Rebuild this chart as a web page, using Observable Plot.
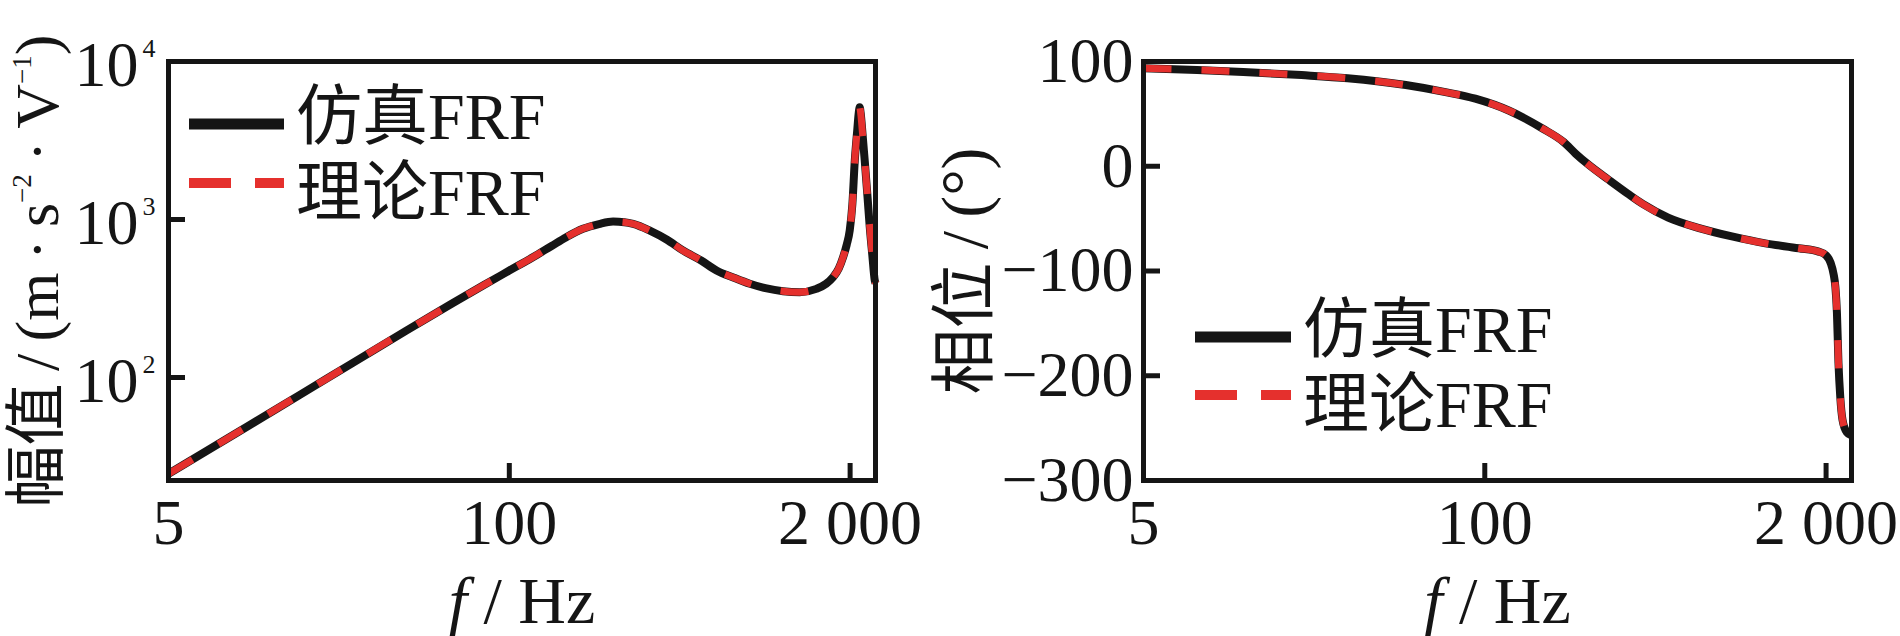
<!DOCTYPE html>
<html><head><meta charset="utf-8">
<script src="https://cdn.jsdelivr.net/npm/d3@7"></script>
<script src="https://cdn.jsdelivr.net/npm/@observablehq/plot@0.6"></script>
<style>
html,body{margin:0;padding:0;background:#fff;}
#wrap{position:relative;width:1900px;height:636px;overflow:hidden;}
#wrap svg{position:absolute;top:0;overflow:visible;max-width:none;}
</style></head><body><div id="wrap"></div>
<script>
// ---------- data ----------
const seriesNames = ["仿真FRF", "理论FRF"];

const freqMag = [5,10,20,40,60,80,100,123,145,165,191,220,249,275,297,344,400,460,540,618,720,828,950,1109,1285,1486,1620,1721,1810,1880,1940,1993,2040,2084,2130,2160,2176,2195,2230,2274,2330,2377,2430,2484,2500];
const magSim    = [24.6,49,98,196,292,385,475,577,680,773,873,935,970,962,939,851,745,637,550,476,428,392,368,352,347,364,392,431,490,577,690,851,1250,2362,3700,4800,5140,4700,3500,2362,1400,894,600,411,395];
const magTheory = [24.6,49,98,196,292,385,475,577,680,773,873,935,970,962,939,851,745,637,550,476,428,392,368,352,347,364,392,431,490,577,690,851,1250,2362,3700,4800,5140,4700,3500,2362,1400,894,600,411,395];

const freqPhase = [5,8,12,20,30,50,70,92,124,166,200,222,250,297,350,400,500,656,875,1174,1574,1874,2000,2080,2140,2170,2200,2230,2265,2310,2400,2500];
const phaseSim    = [93.5,92,90,87,84,77.5,71,64.5,53,36,23,12,1,-13,-26,-36,-49,-59,-67,-73.6,-78.3,-81.5,-85,-92,-104,-115,-140,-188,-220,-242,-254,-257];
const phaseTheory = [93.5,92,90,87,84,77.5,71,64.5,53,36,23,12,1,-13,-26,-36,-49,-59,-67,-73.6,-78.3,-81.5,-85,-92,-104,-115,-140,-188,-220,-242,-254,-257];

const xTicks = [5, 100, 2000];
const xTickLabels = ["5", "100", "2 000"];
const magTicks = [100, 1000, 10000];
const magTickExp = ["2", "3", "4"];
const phaseTicks = [100, 0, -100, -200, -300];
const phaseTickLabels = ["100", "0", "\u2212100", "\u2212200", "\u2212300"];

const TS = "\u2009"; // thin space
const xLabel = "f / Hz";
const magLabel = `幅值${TS}/${TS}(m${TS}·${TS}s−2${TS}·${TS}V−1)`;
const phaseLabel = `相位${TS}/${TS}(°)`;

// ---------- style ----------
const FONT = '"Liberation Serif","Times New Roman","Noto Sans CJK SC",serif';
const BLACK = "#151515", RED = "#e5302d";
const W = 950, H = 636, MT = 61, MB = 156;
const FH = H - MT - MB;

const magData = freqMag.map((f, i) => ({f, sim: magSim[i], theory: magTheory[i]}));
const phaseData = freqPhase.map((f, i) => ({f, sim: phaseSim[i], theory: phaseTheory[i]}));

function panel({data, y, yTicks, ml, mr, yTextMarks, yLabel, yLabelDx, yLabelSize}) {
  const FW = W - ml - mr;
  return Plot.plot({
    width: W, height: H,
    marginLeft: ml, marginRight: mr, marginTop: MT, marginBottom: MB,
    style: {fontFamily: FONT, background: "transparent", color: BLACK, overflow: "visible"},
    x: {type: "log", domain: [5, 2500], axis: null},
    y: {...y, axis: null},
    marks: [
      Plot.tickX(xTicks, {x: d => d, stroke: BLACK, strokeWidth: 5, insetTop: FH - 17}),
      Plot.tickY(yTicks, {y: d => d, stroke: BLACK, strokeWidth: 5, insetRight: FW - 17}),
      Plot.line(data, {x: "f", y: "sim", stroke: BLACK, strokeWidth: 8, curve: "monotone-x", strokeLinecap: "butt"}),
      Plot.line(data, {x: "f", y: "theory", stroke: RED, strokeWidth: 7, strokeDasharray: "28,30", strokeLinecap: "butt", curve: "monotone-x"}),
      Plot.frame({stroke: BLACK, strokeWidth: 5}),
      Plot.text(xTicks, {x: d => d, frameAnchor: "bottom", text: (d, i) => xTickLabels[i], lineAnchor: "top", dy: 18, fontSize: 64}),
      ...yTextMarks,
      Plot.text([xLabel], {text: d => d, frameAnchor: "bottom", lineAnchor: "middle", textAnchor: "middle", dy: 121, fontSize: 66}),
      Plot.text([yLabel], {text: d => d, frameAnchor: "left", lineAnchor: "middle", textAnchor: "middle", rotate: -90, dx: yLabelDx, fontSize: yLabelSize})
    ]
  });
}

const magPlot = panel({
  data: magData,
  y: {type: "log", domain: [22.3, 10000]},
  yTicks: magTicks, ml: 168, mr: 75,
  yTextMarks: [
    Plot.text(magTicks, {y: d => d, frameAnchor: "left", text: () => "10", textAnchor: "end", dx: -30, dy: 4, fontSize: 64}),
    Plot.text(magTicks, {y: d => d, frameAnchor: "left", text: (d, i) => magTickExp[i], textAnchor: "start", dx: -26, dy: -13, fontSize: 26})
  ],
  yLabel: magLabel, yLabelDx: -130, yLabelSize: 62
});

const phasePlot = panel({
  data: phaseData,
  y: {type: "linear", domain: [-300, 100]},
  yTicks: phaseTicks, ml: 193, mr: 49,
  yTextMarks: [
    Plot.text(phaseTicks, {y: d => d, frameAnchor: "left", text: (d, i) => phaseTickLabels[i], textAnchor: "end", dx: -10, fontSize: 64})
  ],
  yLabel: phaseLabel, yLabelDx: -178, yLabelSize: 66
});

const wrap = document.getElementById("wrap");
magPlot.style.left = "0px";
phasePlot.style.left = W + "px";
wrap.append(magPlot, phasePlot);

// butt caps on the curves so the dash pattern shows black and red evenly
[magPlot, phasePlot].forEach(svg => {
  d3.select(svg).selectAll('g[aria-label="line"]').attr("stroke-linecap", "butt")
    .selectAll("path").attr("stroke-linecap", "butt");
});

// ---------- rich text (italic f, superscripts) ----------
function rich(svg, content, parts, supSize, supShift) {
  const t = d3.select(svg).selectAll("text").filter(function () { return this.textContent === content; });
  t.text(null);
  parts.forEach(p => {
    const ts = t.append("tspan").text(p.t);
    if (p.italic) ts.attr("font-style", "italic");
    if (p.sup) ts.attr("font-size", supSize).attr("dy", -supShift);
    if (p.down) ts.attr("dy", supShift);
  });
}
[magPlot, phasePlot].forEach(svg => rich(svg, xLabel, [{t: "f", italic: true}, {t: " / Hz"}]));
rich(magPlot, magLabel, [
  {t: `幅值${TS}/${TS}(m${TS}·${TS}s`}, {t: "\u22122", sup: true}, {t: `${TS}·${TS}V`, down: true}, {t: "\u22121", sup: true}, {t: ")", down: true}
], 27, 27);

// ---------- legends ----------
function legend(svg, x0, x1, tx, rows) {
  const g = d3.select(svg).append("g").attr("font-size", 66).attr("fill", BLACK).attr("text-anchor", "start");
  rows.forEach((r, i) => {
    g.append("line").attr("x1", x0).attr("x2", x1).attr("y1", r.ly).attr("y2", r.ly)
      .attr("stroke", i === 0 ? BLACK : RED).attr("stroke-width", i === 0 ? 11 : 10)
      .attr("stroke-dasharray", i === 0 ? null : "42,24");
    g.append("text").attr("x", tx).attr("y", r.ty).text(seriesNames[i]);
  });
}
legend(magPlot, 189, 284, 296, [{ly: 124, ty: 139}, {ly: 183, ty: 215}]);
legend(phasePlot, 245, 341, 353, [{ly: 337, ty: 352}, {ly: 395, ty: 427}]);
</script>
</body></html>
